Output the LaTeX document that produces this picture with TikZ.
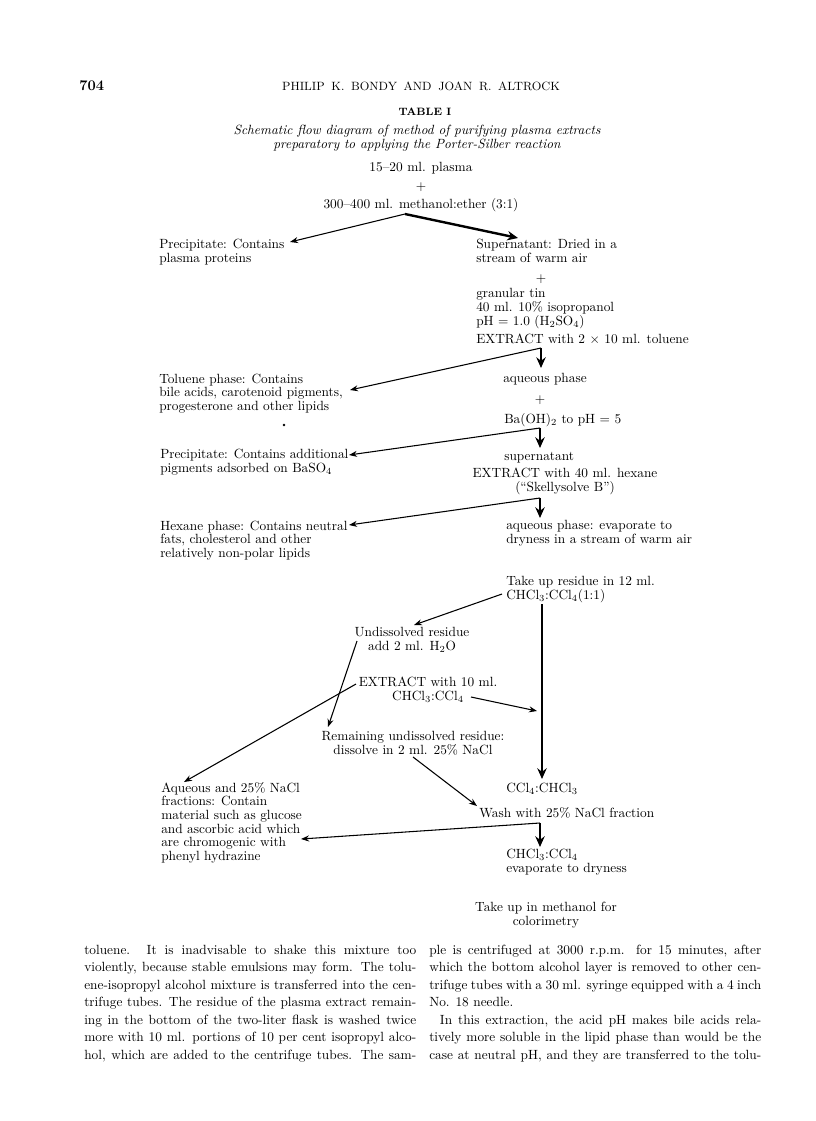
\documentclass[tikz,border=0pt]{standalone}
\usetikzlibrary{arrows.meta}
\newlength{\colw}\setlength{\colw}{249pt}
\newcommand{\jl}[1]{\makebox[\colw][s]{#1}}
\begin{document}
\begin{tikzpicture}[x=0.75pt,y=-0.75pt,
  every node/.style={inner sep=0pt,font=\fontsize{10}{10.3}\selectfont},
  lbl/.style={anchor=base west,align=left},
  cbl/.style={anchor=base,align=center},
  flow/.style={line width=0.8pt,-{Stealth[length=6pt,width=4.5pt]}},
  heavy/.style={line width=2.2pt,-{Stealth[length=8pt,width=7pt]}}]
\fill[white] (0,0) rectangle (816,1121);
\useasboundingbox (0,0) rectangle (816,1121);
% running head
\node[anchor=base west,font=\fontsize{11}{13}\selectfont\bfseries] (pg) at (79,90) {704};
\node[anchor=base,font={\fontsize{9}{11}\selectfont\spaceskip=5pt}] (hdr) at (421,90) {PHILIP K. BONDY AND JOAN R. ALTROCK};
\node[anchor=base,font=\fontsize{8}{10}\selectfont\bfseries] (tab) at (425,115) {TABLE I};
\node[cbl,font=\fontsize{10}{10.3}\selectfont\itshape] (ttl) at (417,148.7) {Schematic flow diagram of method of purifying plasma extracts\\preparatory to applying the Porter-Silber reaction};
% flow diagram (base = last line)
\node[cbl] (plasma) at (421,171) {15--20 ml. plasma};
\node[cbl] (plus1) at (421,190) {$+$};
\node[cbl] (mix) at (421,208) {300--400 ml. methanol:ether (3:1)};
\node[lbl] (prec) at (159,262.7) {Precipitate: Contains\\plasma proteins};
\node[lbl] (sup) at (476,262.7) {Supernatant: Dried in a\\stream of warm air};
\node[cbl] (plus2) at (541,282) {$+$};
\node[lbl] (tin) at (476,325) {granular tin\\40 ml. 10\% isopropanol\\pH $=$ 1.0 (H$_2$SO$_4$)};
\node[lbl] (ext1) at (476,343) {EXTRACT with 2 $\times$ 10 ml. toluene};
\node[lbl] (tol) at (159,410.5) {Toluene phase: Contains\\bile acids, carotenoid pigments,\\progesterone and other lipids};
\node[lbl] (aq1) at (503,382) {aqueous phase};
\node[cbl] (plus3) at (540,403) {$+$};
\node[lbl] (baoh) at (504,423) {Ba(OH)$_2$ to pH $=$ 5};
\node[lbl] (prec2) at (160,472.7) {Precipitate: Contains additional\\pigments adsorbed on BaSO$_4$};
\node[lbl] (supn) at (504,460) {supernatant};
\node[cbl] (ext2) at (565,491.7) {EXTRACT with 40 ml. hexane\\(``Skellysolve B'')};
\node[lbl] (hex) at (160,557.5) {Hexane phase: Contains neutral\\fats, cholesterol and other\\relatively non-polar lipids};
\node[lbl] (aq2) at (506,543.7) {aqueous phase: evaporate to\\dryness in a stream of warm air};
\node[lbl] (take) at (506,599.7) {Take up residue in 12 ml.\\CHCl$_3$:CCl$_4$(1:1)};
\node[cbl] (und) at (412,650.7) {Undissolved residue\\add 2 ml. H$_2$O};
\node[cbl] (ext3) at (428,700.7) {EXTRACT with 10 ml.\\CHCl$_3$:CCl$_4$};
\node[cbl] (rem) at (413,754.7) {Remaining undissolved residue:\\dissolve in 2 ml. 25\% NaCl};
\node[lbl] (aqf) at (161,860.7) {Aqueous and 25\% NaCl\\fractions: Contain\\material such as glucose\\and ascorbic acid which\\are chromogenic with\\phenyl hydrazine};
\node[lbl] (ccl) at (506,792) {CCl$_4$:CHCl$_3$};
\node[lbl] (wash) at (479,817) {Wash with 25\% NaCl fraction};
\node[lbl] (chcl) at (506,872.7) {CHCl$_3$:CCl$_4$\\evaporate to dryness};
\node[cbl] (meth) at (546,925) {Take up in methanol for\\colorimetry};
\fill (284,425) circle (1.3);
% branch points and arrow ends
\coordinate (split1) at (405,214);
\coordinate (precIn) at (290,242);
\coordinate (supIn) at (518,238);
\coordinate (fork1) at (541,348);
\coordinate (aq1In) at (541,368);
\coordinate (tolIn) at (350,390);
\coordinate (fork2) at (540,428);
\coordinate (supnIn) at (540,448);
\coordinate (prec2In) at (349,455);
\coordinate (fork3) at (540,498);
\coordinate (aq2In) at (540,518);
\coordinate (hexIn) at (349,525);
\coordinate (takeOut) at (502,594);
\coordinate (undIn) at (414,625);
\coordinate (takeDown) at (542,604);
\coordinate (cclIn) at (542,779);
\coordinate (undOut) at (357,641);
\coordinate (remIn) at (328,727);
\coordinate (ext3Out) at (356,684);
\coordinate (aqfIn) at (184,782);
\coordinate (ext3Right) at (471,697);
\coordinate (vertIn) at (537,711);
\coordinate (remOut) at (413,757);
\coordinate (washIn) at (477,806);
\coordinate (fork4) at (540,823);
\coordinate (chclIn) at (540,847);
\coordinate (aqfIn2) at (301,839);
\draw[flow] (split1) -- (precIn);
\draw[heavy,line width=1.8pt] (split1) -- (supIn);
\draw[heavy] (fork1) -- (aq1In);
\draw[flow] (fork1) -- (tolIn);
\draw[heavy] (fork2) -- (supnIn);
\draw[flow] (fork2) -- (prec2In);
\draw[heavy] (fork3) -- (aq2In);
\draw[flow] (fork3) -- (hexIn);
\draw[flow] (takeOut) -- (undIn);
\draw[heavy] (takeDown) -- (cclIn);
\draw[flow] (ext3Out) -- (aqfIn);
\draw[flow,preaction={draw=white,line width=4pt,arrows=-,shorten >=30pt,shorten <=20pt}] (undOut) -- (remIn);
\draw[flow] (ext3Right) -- (vertIn);
\draw[flow] (remOut) -- (washIn);
\draw[heavy] (fork4) -- (chclIn);
\draw[flow] (fork4) -- (aqfIn2);
% text columns
\node[anchor=base west,align=left,font=\fontsize{10}{13.1}\selectfont] (colL) at (84,1059) {%
\jl{toluene. It is inadvisable to shake this mixture too}\\
\jl{violently, because stable emulsions may form. The tolu-}\\
\jl{ene-isopropyl alcohol mixture is transferred into the cen-}\\
\jl{trifuge tubes. The residue of the plasma extract remain-}\\
\jl{ing in the bottom of the two-liter flask is washed twice}\\
\jl{more with 10 ml. portions of 10 per cent isopropyl alco-}\\
\jl{hol, which are added to the centrifuge tubes. The sam-}};
\node[anchor=base west,align=left,font=\fontsize{10}{13.1}\selectfont] (colR) at (429,1059) {%
\jl{ple is centrifuged at 3000 r.p.m. for 15 minutes, after}\\
\jl{which the bottom alcohol layer is removed to other cen-}\\
\jl{trifuge tubes with a 30 ml. syringe equipped with a 4 inch}\\
No. 18 needle.\\
\jl{\hspace*{8pt}In this extraction, the acid pH makes bile acids rela-}\\
\jl{tively more soluble in the lipid phase than would be the}\\
\jl{case at neutral pH, and they are transferred to the tolu-}};
\end{tikzpicture}
\end{document}
